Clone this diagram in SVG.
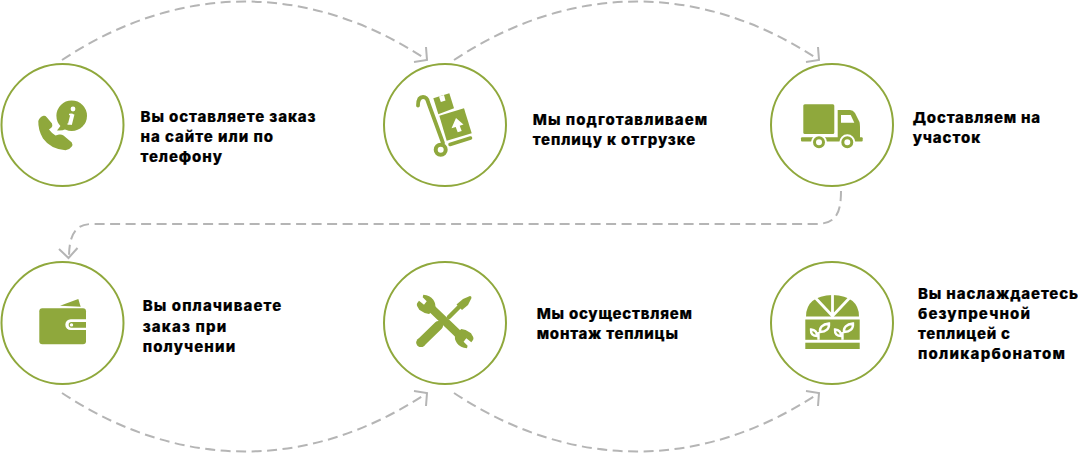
<svg xmlns="http://www.w3.org/2000/svg" width="1078" height="454" viewBox="0 0 1078 454">
<style>
.ring{fill:#fff;stroke:#8fa83c;stroke-width:2}
.g{fill:#8fa83c}
.w{fill:#fff}
.gs{fill:none;stroke:#8fa83c;stroke-linecap:round}
.ws{fill:none;stroke:#fff}
.leaf{fill:#8fa83c;stroke:#fff;stroke-width:2.400}
.c{fill:none;stroke:#b5b5b5;stroke-width:2;stroke-dasharray:10 5.500}
.a{fill:none;stroke:#b5b5b5;stroke-width:2}
text{font-family:"Inter","Liberation Sans",sans-serif;font-weight:800;font-size:15px;fill:#000;stroke:#000;stroke-width:.2}
</style>
<rect width="1078" height="454" fill="#fff"/>
<g id="connectors">
<path class="c" d="M62 60C180-18 310-18 427 60"/><path class="a" d="M414 62L427 60L426 47"/>
<path class="c" d="M454 60C572-18 702-18 819 60"/><path class="a" d="M806 62L819 60L818 47"/>
<path class="c" d="M841 191C841 215 835 224 815 224L92 224C75 224 69 235 69 258"/><path class="a" d="M59 249L68.500 258L77.500 248"/>
<path class="c" d="M62 393C180 471 310 471 427 393"/><path class="a" d="M414 391L427 393L426 406"/>
<path class="c" d="M454 393C572 471 702 471 819 393"/><path class="a" d="M806 391L819 393L818 406"/>
</g>
<g id="node-order">
<circle class="ring" cx="62.500" cy="125" r="61"/>
<circle class="g" cx="71.700" cy="115.700" r="15.300"/><path class="g" d="M57 130.500L62 124L66 129Q62 131 57 130.500Z"/>
<circle class="w" cx="73" cy="109" r="2.400"/><path class="ws" stroke-width="4" d="M72.500 114L70 124"/><path class="ws" stroke-width="1.500" d="M69 114.500H73M67.500 124H72"/>
<path class="g" d="M38.300 121Q39.500 117 43.500 115.800Q45.500 115.500 46.500 117L52 123.500Q52.800 125.500 51.500 127.500L49 129.500Q51.500 133 55.500 135.500L59 134.500Q61.500 134 63.500 135.500L71.800 142.500Q73 144.500 71.800 146.500Q69.500 149.800 65.500 150.300Q50.500 149 43 138.500Q38 130 38.300 121Z"/>
<text x="140.500" y="122" textLength="175">Вы оставляете заказ</text>
<text x="140.500" y="142" textLength="132.500">на сайте или по</text>
<text x="140.500" y="162" textLength="81.500">телефону</text>
</g>
<g id="node-prepare">
<circle class="ring" cx="445" cy="125" r="61"/>
<path class="gs" stroke-width="3.800" d="M418 105.500Q418 97 423 97Q427 97 428 102L443 143"/>
<path class="g" d="M433.300 98.300L449.300 93.300L454 108.300L438.300 114.300Z"/>
<path class="w" d="M439 96.500L444 95L445.500 100.500L440.800 102Z"/>
<path class="g" d="M439.300 115.700L464 108.300L471.700 133.300L446.700 140.700Z"/>
<path class="w" d="M456 118L463.500 124.500L459.700 125.800L461.700 131L457.700 132.300L455.700 127L451.500 128.300Z"/>
<path class="gs" stroke-width="3.500" d="M450 144.500L470.500 138"/>
<circle cx="440.700" cy="149.700" r="5" fill="#fff" stroke="#8fa83c" stroke-width="4"/>
<text x="532.700" y="125" textLength="174.500">Мы подготавливаем</text>
<text x="532.700" y="145" textLength="162.500">теплицу к отгрузке</text>
</g>
<g id="node-delivery">
<circle class="ring" cx="832" cy="125" r="61"/>
<rect class="g" x="803.300" y="104.300" width="31" height="29.700" rx="1.500"/>
<path class="g" d="M837.700 110L850 110Q853 110 855 113L859.500 122Q860 124 860 127L860 138L837.700 138Z"/>
<path class="w" d="M841 115L850.700 115L854.300 122.700L841 122.700Z"/>
<rect class="g" x="801" y="137.300" width="61.700" height="4.300" rx="1"/>
<circle class="w" cx="819" cy="142.300" r="8"/><circle cx="819" cy="142.300" r="4.500" fill="#fff" stroke="#8fa83c" stroke-width="3"/>
<circle class="w" cx="847.300" cy="142.300" r="8"/><circle cx="847.300" cy="142.300" r="4.500" fill="#fff" stroke="#8fa83c" stroke-width="3"/>
<text x="912.700" y="123" textLength="127.500">Доставляем на</text>
<text x="912.700" y="142.500" textLength="67.500">участок</text>
</g>
<g id="node-payment">
<circle class="ring" cx="62.500" cy="323" r="61"/>
<path class="g" d="M60 305.700L78.300 299L80.700 306.700Z"/>
<rect class="g" x="39.300" y="308.300" width="46.700" height="36" rx="3"/>
<path class="w" d="M86 319.300H70.700a5.300 5.300 0 0 0 0 10.700H86Z"/>
<path class="g" d="M86 322H71.500a2.850 2.850 0 0 0 0 5.700H86Z"/>
<circle class="w" cx="71.500" cy="324.900" r="1.700"/>
<text x="142.700" y="311" textLength="138.500">Вы оплачиваете</text>
<text x="142.700" y="331.500" textLength="83.500">заказ при</text>
<text x="142.700" y="351.500" textLength="92.500">получении</text>
</g>
<g id="node-install">
<circle class="ring" cx="445" cy="323" r="61"/>
<circle class="g" cx="421" cy="342.500" r="4.600"/>
<path class="gs" stroke-width="9.200" stroke-linecap="butt" d="M421 342.500L438.500 325.500"/>
<path class="gs" stroke-width="4.500" stroke-linecap="butt" d="M449 317L459 307"/>
<path class="g" d="M456.500 304.500L463 299L470 296Q471.500 296 471.500 298L468 305L462 310Z"/>
<path class="gs" stroke-width="8" stroke-linecap="butt" d="M430 307L460.300 336"/>
<path id="wrench-head" class="g" d="M423.300 294.700Q430 295 433.300 299.700Q436.500 304.500 435 309L429 314Q424 313.500 421.700 311.300Q418.500 310 418.300 308Q416 305 417.300 303L419 300.700L424 304.700L426.700 301.300L422.700 297.300Z"/>
<use href="#wrench-head" transform="rotate(180 445.150 321.500)"/>
<text x="536.700" y="319" textLength="155.300">Мы осуществляем</text>
<text x="536.700" y="339" textLength="141.300">монтаж теплицы</text>
</g>
<g id="node-enjoy">
<circle class="ring" cx="832" cy="323" r="61"/>
<path class="g" d="M806 316.500Q806 296 832.500 295Q859 296 859 316.500Z"/>
<path class="ws" stroke-width="2.800" d="M832.500 318V292M832.500 316L815.500 298M832.500 316L849.500 298"/>
<rect class="g" x="805.300" y="319.500" width="54.400" height="20.300"/>
<rect class="g" x="805.300" y="342.700" width="54.400" height="6.300"/>
<path class="ws" stroke-width="2.400" d="M818.500 339.800V332"/>
<path class="leaf" d="M820 332Q819 324.800 829 323.500Q829.500 331.500 820 332Z"/>
<path class="leaf" d="M817.200 336Q817 330 811 329.500Q810.500 336 817.200 336Z"/>
<path class="ws" stroke-width="2.400" d="M842.500 339.800V332"/>
<path class="leaf" d="M844 332Q843 324.800 853 323.500Q853.500 331.500 844 332Z"/>
<path class="leaf" d="M841.200 336Q841 330 835 329.500Q834.500 336 841.200 336Z"/>
<text x="918" y="298.700" textLength="160">Вы наслаждаетесь</text>
<text x="918" y="319" textLength="112">безупречной</text>
<text x="918" y="338.700" textLength="92">теплицей с</text>
<text x="918" y="358.500" textLength="147">поликарбонатом</text>
</g>
</svg>
